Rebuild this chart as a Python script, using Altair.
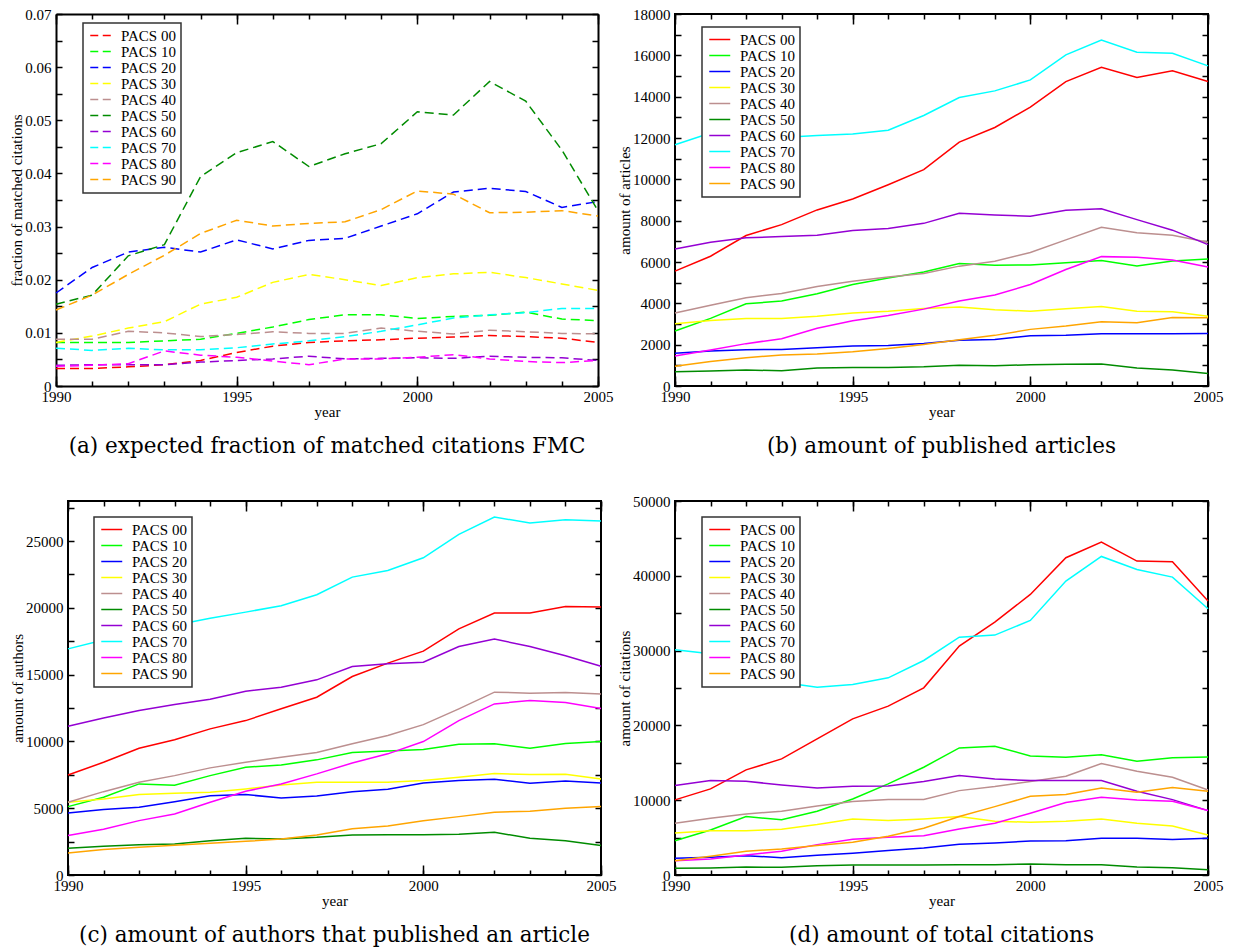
import altair as alt
import pandas as pd

years = list(range(1990, 2006))
series = ["PACS 00", "PACS 10", "PACS 20", "PACS 30", "PACS 40",
          "PACS 50", "PACS 60", "PACS 70", "PACS 80", "PACS 90"]
colors = ["#ff0000", "#00ff00", "#0000ff", "#ffff00", "#bc8f8f",
          "#008b00", "#9400d3", "#00ffff", "#ff00ff", "#ffa500"]

fmc = {
    "PACS 00": [0.0033, 0.0033, 0.0036, 0.0040, 0.0048, 0.0063, 0.0075, 0.0082, 0.0085, 0.0087, 0.0090, 0.0092, 0.0095, 0.0093, 0.0090, 0.0082],
    "PACS 10": [0.0082, 0.0082, 0.0082, 0.0085, 0.0088, 0.0099, 0.0111, 0.0125, 0.0134, 0.0134, 0.0127, 0.0131, 0.0133, 0.0139, 0.0126, 0.0123],
    "PACS 20": [0.0175, 0.0223, 0.0252, 0.0261, 0.0252, 0.0275, 0.0258, 0.0274, 0.0278, 0.0301, 0.0324, 0.0365, 0.0372, 0.0366, 0.0336, 0.0347],
    "PACS 30": [0.0082, 0.0094, 0.0109, 0.0121, 0.0154, 0.0167, 0.0195, 0.0210, 0.0200, 0.0189, 0.0204, 0.0211, 0.0214, 0.0204, 0.0192, 0.0180],
    "PACS 40": [0.0088, 0.0088, 0.0103, 0.0100, 0.0093, 0.0097, 0.0102, 0.0099, 0.0099, 0.0109, 0.0103, 0.0098, 0.0105, 0.0102, 0.0099, 0.0098],
    "PACS 50": [0.0154, 0.0171, 0.0245, 0.0266, 0.0394, 0.0439, 0.0460, 0.0413, 0.0437, 0.0456, 0.0516, 0.0510, 0.0573, 0.0536, 0.0444, 0.0330],
    "PACS 60": [0.0039, 0.0040, 0.0040, 0.0040, 0.0045, 0.0048, 0.0051, 0.0056, 0.0051, 0.0052, 0.0053, 0.0052, 0.0056, 0.0054, 0.0053, 0.0048],
    "PACS 70": [0.0071, 0.0067, 0.0071, 0.0068, 0.0068, 0.0072, 0.0079, 0.0085, 0.0093, 0.0103, 0.0115, 0.0128, 0.0134, 0.0138, 0.0146, 0.0146],
    "PACS 80": [0.0037, 0.0039, 0.0042, 0.0066, 0.0058, 0.0054, 0.0047, 0.0040, 0.0051, 0.0051, 0.0054, 0.0059, 0.0051, 0.0046, 0.0044, 0.0048],
    "PACS 90": [0.0143, 0.0171, 0.0210, 0.0246, 0.0287, 0.0312, 0.0301, 0.0306, 0.0309, 0.0332, 0.0367, 0.0361, 0.0326, 0.0327, 0.0330, 0.0320],
}

articles = {
    "PACS 00": [5560, 6280, 7280, 7810, 8520, 9050, 9740, 10470, 11800, 12510, 13490, 14730, 15420, 14930, 15250, 14730],
    "PACS 10": [2660, 3270, 3980, 4110, 4460, 4910, 5230, 5520, 5930, 5840, 5860, 5960, 6070, 5810, 6050, 6150],
    "PACS 20": [1590, 1690, 1760, 1770, 1850, 1930, 1960, 2060, 2210, 2250, 2430, 2460, 2530, 2530, 2530, 2540],
    "PACS 30": [3010, 3170, 3270, 3270, 3370, 3530, 3620, 3750, 3820, 3690, 3620, 3740, 3850, 3620, 3590, 3380],
    "PACS 40": [3530, 3910, 4270, 4480, 4810, 5070, 5270, 5440, 5800, 6040, 6460, 7070, 7680, 7420, 7290, 6960],
    "PACS 50": [690, 730, 770, 740, 870, 890, 900, 930, 1000, 980, 1030, 1050, 1060, 870, 770, 610],
    "PACS 60": [6630, 6960, 7170, 7230, 7290, 7520, 7620, 7870, 8360, 8280, 8210, 8500, 8580, 8050, 7540, 6840],
    "PACS 70": [11670, 12240, 12150, 12030, 12120, 12190, 12380, 13090, 13960, 14280, 14810, 16020, 16740, 16150, 16100, 15490],
    "PACS 80": [1450, 1740, 2050, 2290, 2790, 3160, 3410, 3720, 4110, 4400, 4910, 5640, 6260, 6230, 6100, 5760],
    "PACS 90": [950, 1180, 1370, 1500, 1550, 1660, 1820, 2010, 2240, 2450, 2740, 2900, 3110, 3060, 3320, 3300],
}

authors = {
    "PACS 00": [7490, 8440, 9490, 10120, 10940, 11560, 12440, 13310, 14860, 15860, 16760, 18430, 19610, 19610, 20110, 20060],
    "PACS 10": [5120, 5820, 6820, 6720, 7440, 8070, 8240, 8620, 9170, 9290, 9390, 9790, 9820, 9490, 9840, 9990],
    "PACS 20": [4650, 4900, 5070, 5490, 5940, 6020, 5770, 5920, 6240, 6420, 6890, 7070, 7170, 6870, 7040, 6890],
    "PACS 30": [5450, 5690, 6020, 6120, 6190, 6440, 6740, 6940, 6940, 6940, 7070, 7320, 7590, 7520, 7540, 7190],
    "PACS 40": [5450, 6240, 6940, 7440, 8020, 8440, 8820, 9170, 9820, 10440, 11260, 12440, 13690, 13610, 13660, 13560],
    "PACS 50": [2000, 2150, 2270, 2320, 2570, 2750, 2700, 2820, 3000, 3020, 3020, 3050, 3200, 2750, 2570, 2200],
    "PACS 60": [11140, 11760, 12310, 12760, 13160, 13760, 14060, 14610, 15610, 15810, 15930, 17110, 17660, 17110, 16410, 15630],
    "PACS 70": [16930, 17600, 18200, 18700, 19230, 19680, 20160, 20980, 22300, 22800, 23750, 25500, 26800, 26350, 26600, 26500],
    "PACS 80": [2950, 3420, 4070, 4570, 5450, 6270, 6820, 7570, 8390, 9070, 9990, 11560, 12810, 13060, 12910, 12460],
    "PACS 90": [1650, 1900, 2070, 2220, 2370, 2520, 2700, 3000, 3470, 3670, 4070, 4370, 4700, 4770, 5000, 5120],
}

citations = {
    "PACS 00": [10040, 11510, 14050, 15520, 18200, 20870, 22570, 25020, 30600, 33810, 37510, 42420, 44510, 41970, 41880, 36620],
    "PACS 10": [4590, 6020, 7810, 7400, 8520, 10170, 12180, 14410, 16990, 17220, 15920, 15740, 16060, 15210, 15660, 15790],
    "PACS 20": [2230, 2360, 2590, 2320, 2630, 2900, 3260, 3610, 4100, 4280, 4550, 4590, 4910, 4910, 4730, 4910],
    "PACS 30": [5620, 5930, 5930, 6110, 6740, 7490, 7270, 7490, 7810, 7180, 7050, 7180, 7490, 6910, 6560, 5350],
    "PACS 40": [6910, 7580, 8160, 8520, 9230, 9810, 10080, 10080, 11280, 11820, 12490, 13200, 14900, 13870, 13070, 11370],
    "PACS 50": [890, 940, 1070, 1030, 1250, 1340, 1340, 1340, 1380, 1380, 1470, 1380, 1380, 1070, 980, 710],
    "PACS 60": [11950, 12620, 12530, 12040, 11640, 11860, 11910, 12490, 13290, 12850, 12620, 12620, 12620, 11200, 10080, 8610],
    "PACS 70": [30100, 29570, 27500, 25780, 25110, 25470, 26360, 28680, 31800, 32070, 34030, 39290, 42590, 40850, 39830, 35590],
    "PACS 80": [1920, 2140, 2680, 3170, 4060, 4770, 5040, 5260, 6160, 6910, 8250, 9680, 10390, 10040, 9860, 8610],
    "PACS 90": [1920, 2500, 3170, 3480, 3930, 4370, 5170, 6240, 7810, 9140, 10530, 10750, 11640, 11060, 11690, 11200],
}

x_major = [1990, 1995, 2000, 2005]

SERIF = "Liberation Serif"
CAPTION_FONT = "DejaVu Serif"


def long_frame(table):
    rows = []
    for s in series:
        for yr, v in zip(years, table[s]):
            rows.append({"year": yr, "series": s, "value": v})
    return pd.DataFrame(rows)


def panel(table, ytitle, ymax, ylabel_vals, yminor_vals, caption, width, height,
          legend_xy, dashed=False, yfmt="d", shift=0, caption_dx=0):
    """shift > 0 lets the data frame start `shift` px left of the view origin;
    the frame is then drawn with axis domain lines instead of the view stroke."""
    df = long_frame(table)
    anchor = pd.DataFrame({"year": [1990], "value": [0]})
    if shift:
        xs = alt.Scale(domain=[1990, 2005], nice=False, zero=False, range=[-shift, width])
    else:
        xs = alt.Scale(domain=[1990, 2005], nice=False, zero=False)
    ys = alt.Scale(domain=[0, ymax], nice=False, zero=False)
    frame_by_axes = bool(shift)
    dom = dict(domain=frame_by_axes, domainColor="black", domainWidth=2)

    legend_kw = dict(orient="none", legendX=legend_xy[0], legendY=legend_xy[1],
                     title=None, strokeColor="#333333", fillColor="white",
                     padding=5, labelFont=SERIF, labelFontSize=15, labelColor="black",
                     symbolType="M-1,0H3", symbolSize=110, symbolStrokeWidth=1.5,
                     symbolOffset=0, labelOffset=18, rowPadding=0, labelLimit=200)
    mark_kw = dict(strokeWidth=1.5)
    if dashed:
        legend_kw["symbolDash"] = [8, 4.5]
        mark_kw["strokeDash"] = [9, 5]

    lines = alt.Chart(df).mark_line(**mark_kw).encode(
        x=alt.X("year:Q", scale=xs, axis=alt.Axis(
            orient="bottom", values=x_major, format="d", ticks=False,
            grid=False, labelPadding=3, labelFlush=False, title="year", titlePadding=0,
            **dom)),
        y=alt.Y("value:Q", scale=ys, axis=alt.Axis(
            orient="left", values=ylabel_vals, format=yfmt, ticks=False, offset=shift,
            grid=False, labelPadding=5, labelFlush=False, title=ytitle, titlePadding=0,
            **dom)),
        color=alt.Color("series:N", scale=alt.Scale(domain=series, range=colors),
                        legend=alt.Legend(**legend_kw)),
    )

    def tick_layer(xorient, xvals, xsize, yorient=None, yvals=None, ysize=6,
                   yoffset=0, xdomain=False, ydomain=False):
        xa = alt.Axis(orient=xorient, offset=-height, values=xvals, tickSize=xsize,
                      labels=False, grid=False, title=None,
                      tickColor="black", tickWidth=1.5,
                      domain=xdomain, domainColor="black", domainWidth=2)
        if yorient is None:
            ya = None
        else:
            ya = alt.Axis(orient=yorient, offset=yoffset, values=yvals, tickSize=ysize,
                          labels=False, grid=False, title=None,
                          tickColor="black", tickWidth=1.5,
                          domain=ydomain, domainColor="black", domainWidth=2)
        return alt.Chart(anchor).mark_point(opacity=0).encode(
            x=alt.X("year:Q", scale=xs, axis=xa),
            y=alt.Y("value:Q", scale=ys, axis=ya),
        )

    layers = [
        lines,
        # inward ticks on the bottom edge and on the left edge
        tick_layer("top", x_major, 10, "right", yminor_vals, 6, yoffset=-(width + shift)),
        tick_layer("top", years, 5, "left", yminor_vals, 6, yoffset=-width,
                   ydomain=frame_by_axes),
        # inward ticks on the top edge
        tick_layer("bottom", x_major, 10, xdomain=frame_by_axes),
        tick_layer("bottom", years, 5),
    ]
    props = dict(
        width=width, height=height,
        title=alt.TitleParams(caption, orient="bottom", anchor="middle", frame="group",
                              font=CAPTION_FONT, fontSize=21.5, fontWeight="normal",
                              color="black", offset=17, dx=caption_dx),
    )
    if frame_by_axes:
        props["view"] = alt.ViewBackground(stroke="transparent")
    return alt.layer(*layers).properties(**props)


fmc_labels = [0, 0.01, 0.02, 0.03, 0.04, 0.05, 0.06, 0.07]
fmc_minor = [i * 0.005 for i in range(15)]
art_labels = list(range(0, 18001, 2000))
art_minor = list(range(0, 18001, 1000))
aut_labels = list(range(0, 25001, 5000))
aut_minor = list(range(0, 28000, 2500))
cit_labels = list(range(0, 50001, 10000))
cit_minor = list(range(0, 50001, 5000))

pa = panel(fmc, "fraction of matched citations", 0.07, fmc_labels, fmc_minor,
           "(a) expected fraction of matched citations FMC", 530, 372, (15, 9),
           dashed=True, yfmt=".2~f", shift=12, caption_dx=-6)
pb = panel(articles, "amount of articles", 18000, art_labels, art_minor,
           "(b) amount of published articles", 533, 372, (27, 13))
pc = panel(authors, "amount of authors", 28000, aut_labels, aut_minor,
           "(c) amount of authors that published an article", 533, 374, (26, 16))
pd_ = panel(citations, "amount of citations", 50000, cit_labels, cit_minor,
            "(d) amount of total citations", 533, 374, (27, 16))

chart = alt.concat(
    pa, pb, pc, pd_, columns=2,
    align={"row": "each", "column": "all"},
    spacing={"row": 34, "column": -1},
).resolve_scale(
    color="independent"
).properties(
    padding={"top": -2, "left": 0, "right": 0, "bottom": 0}, background="white"
).configure_view(
    stroke="black", strokeWidth=2
).configure_axis(
    labelFont=SERIF, labelFontSize=15, labelColor="black",
    titleFont=SERIF, titleFontSize=15, titleFontWeight="normal", titleColor="black",
    grid=False,
).configure_legend(
    strokeWidth=1.5
)

chart.save("out.html", embed_options={"renderer": "svg", "actions": False})
